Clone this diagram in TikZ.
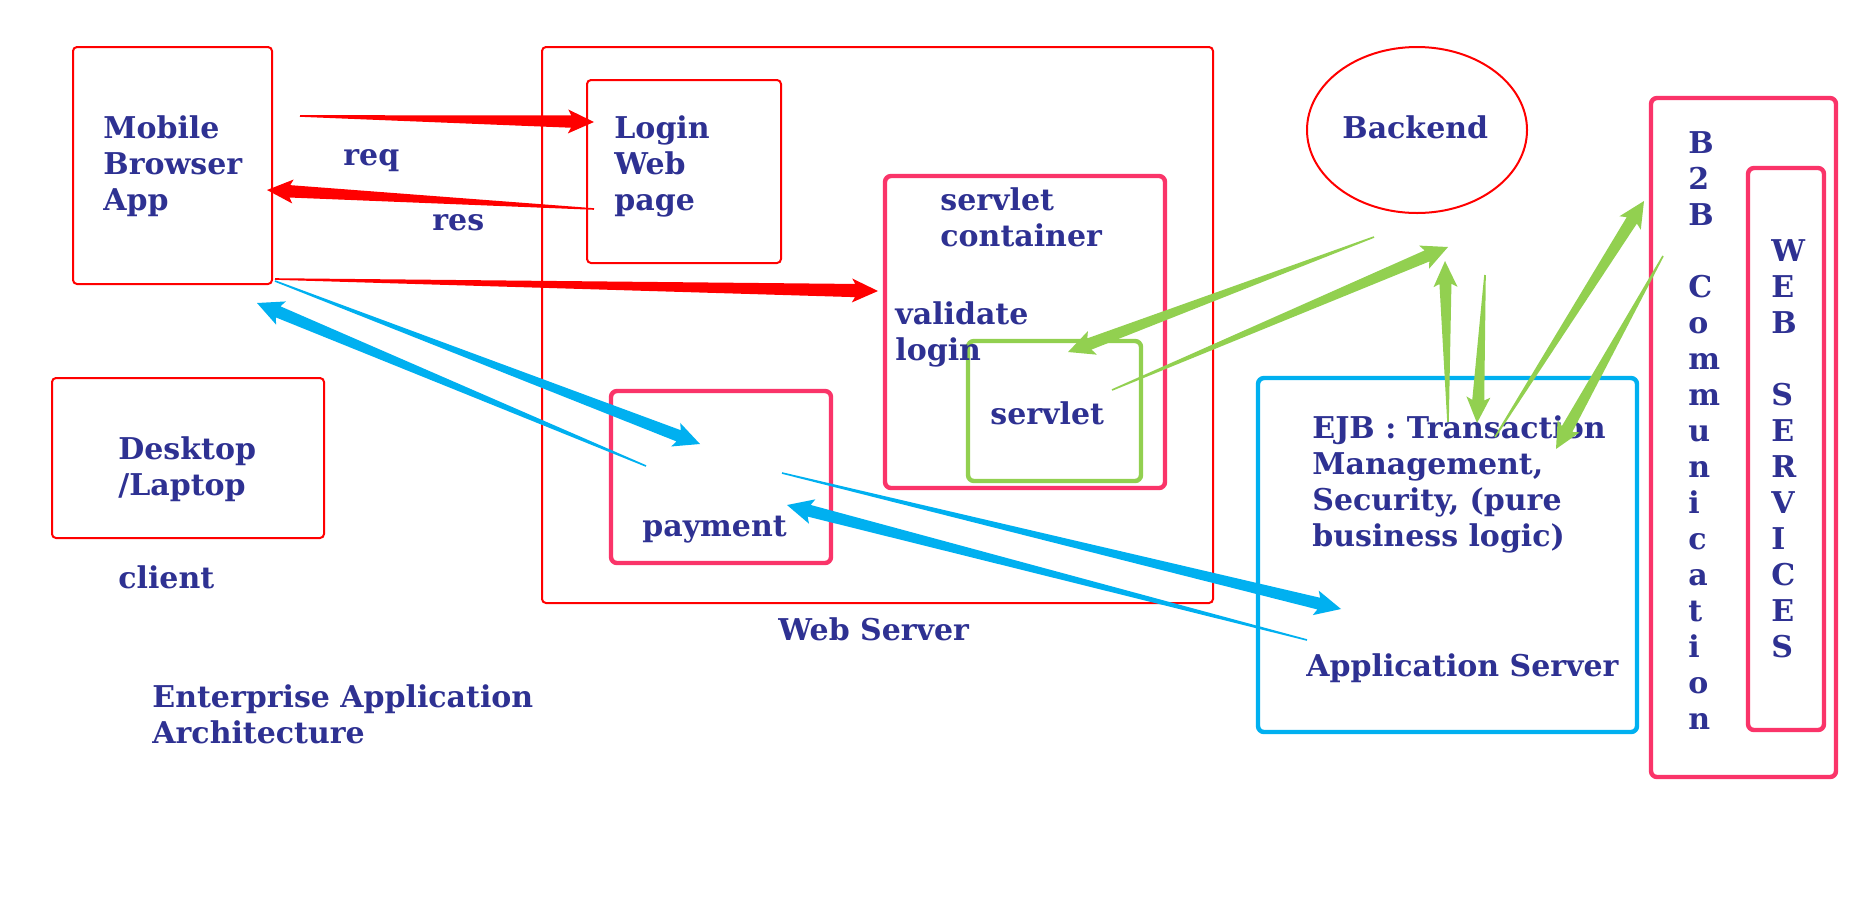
\documentclass[tikz,border=0pt]{standalone}
\usepackage{fontspec}
\setmainfont{DejaVu Serif}
\usetikzlibrary{calc,fit,shapes.geometric}
\definecolor{txt}{HTML}{2E3192}
\definecolor{rd}{HTML}{FF0000}
\definecolor{pk}{HTML}{FA3469}
\definecolor{gr}{HTML}{92D050}
\definecolor{cy}{HTML}{00B0F0}
\newcommand\ml[1]{\vtop{\baselineskip=18pt\halign{##\hfil\cr#1\crcr}}}
% tapered arrow: #1 from, #2 to, #3 colour, #4 shaft half width, #5 head half width, #6 head length
\newcommand\tarrow[6]{%
  \coordinate (tc) at ($(#2)!#6!(#1)$);
  \coordinate (td) at ($(#2)!0.88*#6!(#1)$);
  \fill[#3] ($(#1)!0.4pt!90:(#2)$) -- ($(td)!#4!90:(#2)$) -- ($(tc)!#5!90:(#2)$) -- (#2)
    -- ($(tc)!#5!-90:(#2)$) -- ($(td)!#4!-90:(#2)$) -- ($(#1)!0.4pt!-90:(#2)$) -- cycle;
}
\begin{document}
\begin{tikzpicture}[x=0.5pt,y=-0.5pt,
  lbl/.style={anchor=base west, inner sep=0pt, text=txt, font=\bfseries\fontsize{15}{18}\selectfont},
  thinbox/.style={draw=rd, line width=1pt, rounded corners=2pt, inner sep=0pt},
  thickbox/.style={draw=#1, line width=2.2pt, rounded corners=3pt, inner sep=0pt}]
\useasboundingbox[fill=white] (0,0) rectangle (1857,901);
% boxes
\node[thinbox, fit={(73,47)(272,284)}] (mob) {};
\node[thinbox, fit={(542,47)(1213,603)}] (ws) {};
\node[thinbox, fit={(587,80)(781,263)}] (login) {};
\node[thickbox=pk, fit={(885,176)(1165,488)}] (sc) {};
\node[thickbox=gr, fit={(968,341)(1141,481)}] (sv) {};
\node[thickbox=pk, fit={(611,391)(831,563)}] (pay) {};
\node[thinbox, fit={(52,378)(324,538)}] (desk) {};
\node[draw=rd, line width=1pt, ellipse, inner sep=0pt, minimum width=110pt, minimum height=83pt] (be) at (1417,130) {};
\node[thickbox=cy, fit={(1258,378)(1637,732)}] (as) {};
\node[thickbox=pk, fit={(1651,98)(1836,777)}] (b2b) {};
\node[thickbox=pk, fit={(1748,168)(1824,730)}] (wsv) {};
% labels
\node[lbl] (tmob) at (103,138) {\ml{Mobile\cr Browser\cr App}};
\node[lbl] (tlogin) at (614,138) {\ml{Login\cr Web\cr page}};
\node[lbl] (treq) at (343,165) {req};
\node[lbl] (tres) at (432,230) {res};
\node[lbl] (tsc) at (940,210) {\ml{servlet\cr container}};
\node[lbl] (tval) at (895,324) {\ml{validate\cr login}};
\node[lbl] (tsv) at (990,424) {servlet};
\node[lbl] (tpay) at (642,536) {payment};
\node[lbl] (tdesk) at (118,459) {\ml{Desktop\cr /Laptop}};
\node[lbl] (tclient) at (118,588) {client};
\node[lbl] (tws) at (778,640) {Web Server};
\node[lbl] (tent) at (152,707) {\ml{Enterprise Application\cr Architecture}};
\node[lbl] (tbe) at (1342,138) {Backend};
\node[lbl] (tejb) at (1312,438) {\ml{EJB : Transaction\cr Management,\cr Security, (pure\cr business logic)}};
\node[lbl] (tas) at (1306,676) {Application Server};
\node[lbl] (tb2b) at (1688,153) {\ml{B\cr 2\cr B\cr \cr C\cr o\cr m\cr m\cr u\cr n\cr i\cr c\cr a\cr t\cr i\cr o\cr n}};
\node[lbl] (twsv) at (1771,261) {\ml{W\cr E\cr B\cr \cr S\cr E\cr R\cr V\cr I\cr C\cr E\cr S}};
% arrow end points
\coordinate (r1a) at (300,116); \coordinate (r1b) at (594,122);
\coordinate (r2a) at (594,209); \coordinate (r2b) at (267,190);
\coordinate (r3a) at (275,279); \coordinate (r3b) at (878,291);
\coordinate (b1a) at (275,281); \coordinate (b1b) at (700,444);
\coordinate (b2a) at (646,466); \coordinate (b2b) at (257,303);
\coordinate (b3a) at (782,473); \coordinate (b3b) at (1341,609);
\coordinate (b4a) at (1307,640); \coordinate (b4b) at (787,505);
\coordinate (g1a) at (1374,237); \coordinate (g1b) at (1068,352);
\coordinate (g2a) at (1112,390); \coordinate (g2b) at (1448,247);
\coordinate (g3a) at (1448,422); \coordinate (g3b) at (1445,261);
\coordinate (g4a) at (1485,275); \coordinate (g4b) at (1477,423);
\coordinate (g5a) at (1495,437); \coordinate (g5b) at (1644,201);
\coordinate (g6a) at (1663,256); \coordinate (g6b) at (1556,449);
% arrows
\tarrow{r1a}{r1b}{rd}{3.1pt}{6pt}{13pt}
\tarrow{r2a}{r2b}{rd}{3.1pt}{6pt}{13pt}
\tarrow{r3a}{r3b}{rd}{3.3pt}{6pt}{13pt}
\tarrow{b1a}{b1b}{cy}{3pt}{6.3pt}{13pt}
\tarrow{b2a}{b2b}{cy}{3pt}{6.3pt}{13pt}
\tarrow{b3a}{b3b}{cy}{3pt}{6.3pt}{13pt}
\tarrow{b4a}{b4b}{cy}{3pt}{6.3pt}{13pt}
\tarrow{g1a}{g1b}{gr}{3pt}{6.3pt}{13pt}
\tarrow{g2a}{g2b}{gr}{3pt}{6.3pt}{13pt}
\tarrow{g3a}{g3b}{gr}{3pt}{6pt}{13pt}
\tarrow{g4a}{g4b}{gr}{3pt}{6pt}{13pt}
\tarrow{g5a}{g5b}{gr}{3pt}{6.3pt}{13pt}
\tarrow{g6a}{g6b}{gr}{3pt}{6.3pt}{13pt}
\end{tikzpicture}
\end{document}
